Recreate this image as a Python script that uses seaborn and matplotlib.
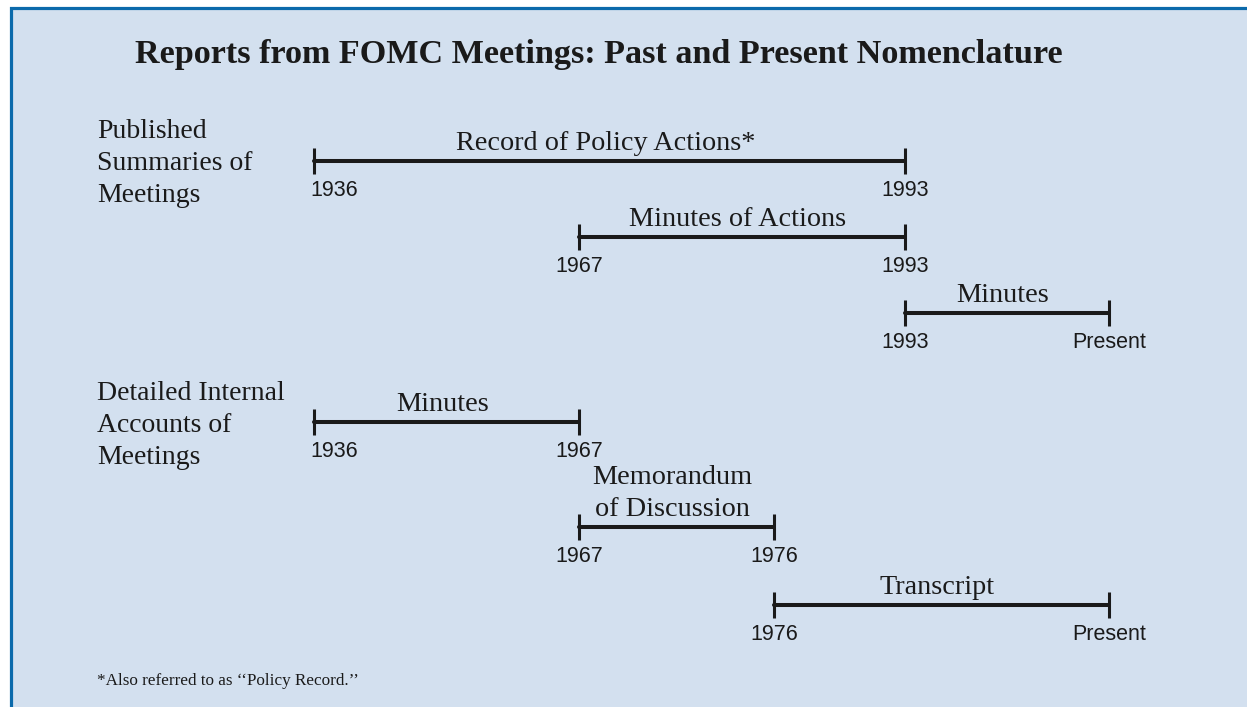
import numpy as np
import pandas as pd
import seaborn as sns
import matplotlib.pyplot as plt
from matplotlib.patches import Rectangle

# timeline data
names = ["Record of Policy Actions*", "Minutes of Actions", "Minutes",
         "Minutes", "Memorandum\nof Discussion", "Transcript"]
start = [1936, 1967, 1993, 1936, 1967, 1976]
end = [1993, 1993, 2010, 1967, 1976, 2010]
end_label = ["1993", "1993", "Present", "1967", "1976", "Present"]
lane = [0, 1, 2, 3.43, 4.82, 5.84]

groups = ["Published\nSummaries of\nMeetings", "Detailed Internal\nAccounts of\nMeetings"]
title = "Reports from FOMC Meetings: Past and Present Nomenclature"
note = "*Also referred to as \u2018\u2018Policy Record.\u2019\u2019"

# schematic (non linear) year axis, like the original drawing
anchor_year = [1900, 1936, 1967, 1976, 1993, 2010, 2030]
anchor_pos = [0, 314, 579, 774, 905, 1109, 1247]


def fwd(x):
    return np.interp(x, anchor_year, anchor_pos)


def inv(p):
    return np.interp(p, anchor_pos, anchor_year)


W, H = 1247, 707
BG = "#d3e0ef"
BLUE = "#0b6aab"
INK = "#1a1a1a"
SERIF = "Liberation Serif"
SANS = "Liberation Sans"
LS = 1.375

sns.set_theme(style="white")

fig = plt.figure(figsize=(W / 100, H / 100), dpi=100, facecolor="white")
fig.add_artist(Rectangle((10.5 / W, -0.05), 1.1, 1 - 8 / H + 0.05,
                         transform=fig.transFigure, facecolor=BG,
                         edgecolor=BLUE, linewidth=2.3, zorder=-2))

ax = fig.add_axes([0, 0, 1, 1])
ax.patch.set_alpha(0)

rows = []
for i in range(len(names)):
    rows.append({"seg": i, "year": start[i], "lane": lane[i]})
    rows.append({"seg": i, "year": end[i], "lane": lane[i]})
df = pd.DataFrame(rows)

sns.lineplot(data=df, x="year", y="lane", units="seg", estimator=None,
             sort=False, color=INK, linewidth=2.9, ax=ax)
sns.scatterplot(data=df, x="year", y="lane", marker="|", s=340,
                color=INK, linewidth=2.2, ax=ax)

ax.set_xscale("function", functions=(fwd, inv))
ax.set_xlim(1900, 2030)
ax.set_ylim(7.184, -2.118)
ax.axis("off")

for i in range(len(names)):
    mid = inv((fwd(start[i]) + fwd(end[i])) / 2)
    ax.annotate(names[i], (mid, lane[i]), xytext=(-4, 5),
                textcoords="offset pixels", ha="center", va="bottom",
                fontsize=20.3, family=SERIF, color=INK, linespacing=LS)
    ha0 = "left" if start[i] == min(start) else "center"
    dx0 = -4 if ha0 == "left" else 0
    ax.annotate(str(start[i]), (start[i], lane[i]), xytext=(dx0, -35),
                textcoords="offset pixels", ha=ha0, va="baseline",
                fontsize=15.5, family=SANS, color=INK)
    ax.annotate(end_label[i], (end[i], lane[i]), xytext=(0, -35),
                textcoords="offset pixels", ha="center", va="baseline",
                fontsize=15.5, family=SANS, color=INK)

fig.text(135 / W, 1 - 63 / H, title, ha="left", va="baseline", fontsize=24.6,
         fontweight="bold", family=SERIF, color=INK)
# va="baseline" on multi-line text sits on the last line
fig.text(97 / W, 1 - 202 / H, groups[0], ha="left", va="baseline",
         fontsize=20, family=SERIF, color=INK, linespacing=LS)
fig.text(97 / W, 1 - 464 / H, groups[1], ha="left", va="baseline",
         fontsize=20, family=SERIF, color=INK, linespacing=LS)
fig.text(97 / W, 1 - 685 / H, note, ha="left", va="baseline",
         fontsize=12.3, family=SERIF, color=INK)

fig.savefig("out.png", dpi=100, facecolor="white")
